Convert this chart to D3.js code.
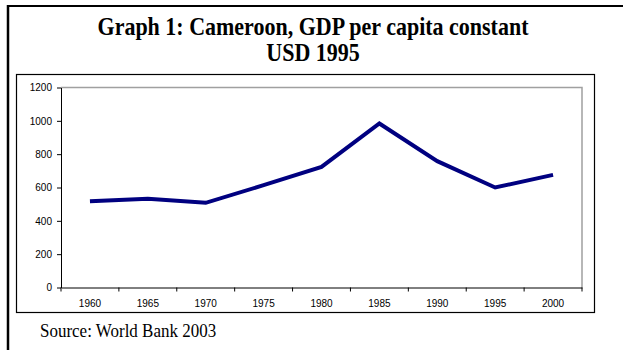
<!DOCTYPE html>
<html><head><meta charset="utf-8">
<script src="https://cdn.jsdelivr.net/npm/d3@7"></script>
<style>body{margin:0;background:#fff}svg{display:block}</style>
</head><body>
<svg id="c" width="623" height="350"></svg>
<script>
const years = ["1960","1965","1970","1975","1980","1985","1990","1995","2000"];
const gdp = [518, 532, 508, 614, 724, 984, 758, 600, 676];
const yTicks = [0, 200, 400, 600, 800, 1000, 1200];
const titleLines = ["Graph 1: Cameroon, GDP per capita constant", "USD 1995"];
const source = "Source: World Bank 2003";

const svg = d3.select("#c");
// outer frame (extends off-canvas right/bottom)
svg.append("line").attr("x1",8).attr("x2",623).attr("y1",6).attr("y2",6).attr("stroke","#000").attr("stroke-width",2);
svg.append("line").attr("x1",8).attr("x2",8).attr("y1",5).attr("y2",350).attr("stroke","#000").attr("stroke-width",2.5);

const serif = "'Liberation Serif','Times New Roman',serif";
svg.selectAll("text.title").data(titleLines).join("text").attr("class","title")
  .attr("text-anchor","middle")
  .attr("transform",(d,i)=>`translate(313,${35+i*26}) scale(1,1.1)`)
  .style("font-family",serif).style("font-weight","bold").style("font-size","22px")
  .text(d=>d);

// inner chart box
svg.append("rect").attr("x",16.5).attr("y",74.5).attr("width",578).attr("height",238).attr("fill","none").attr("stroke","#000").attr("stroke-width",1.2);

const m = {l:61, r:582, t:87.5, b:287.5};
const x = d3.scaleBand().domain(years).range([m.l, m.r]);
const y = d3.scaleLinear().domain([0,1200]).range([m.b, m.t]);

// plot area border top/right grey
svg.append("path").attr("d",`M${m.l},${m.t}H${m.r}V${m.b}`).attr("fill","none").attr("stroke","#a0a0a0").attr("stroke-width",1.5);

const font = "'Liberation Sans',Arial,sans-serif";
const ya = svg.append("g").attr("transform",`translate(${m.l},0)`)
  .call(d3.axisLeft(y).tickValues(yTicks).tickSize(4).tickSizeOuter(0).tickFormat(d3.format("d")));
ya.select(".domain").attr("stroke","#000");
ya.selectAll("text").style("font-family",font).style("font-size","10px").attr("x",-9);

const xa = svg.append("g").attr("transform",`translate(0,${m.b})`)
  .call(d3.axisBottom(x).tickSize(0).tickSizeOuter(0));
xa.select(".domain").attr("stroke","#000");
xa.selectAll("text").style("font-family",font).style("font-size","10px").attr("dy","0").attr("y",19.5);
// ticks between categories
const bounds = years.map(d=>x(d)).concat([m.r]);
xa.selectAll("line.sep").data(bounds).join("line").attr("class","sep")
  .attr("x1",d=>d).attr("x2",d=>d).attr("y1",0).attr("y2",4).attr("stroke","#000");

const line = d3.line().x((d,i)=>x(years[i])+x.bandwidth()/2).y(d=>y(d));
svg.append("path").datum(gdp).attr("d",line).attr("fill","none").attr("stroke","#000080").attr("stroke-width",4).attr("stroke-linejoin","miter");

svg.append("text").attr("transform","translate(40,337) scale(1,1.12)").style("font-family",serif).style("font-size","17px").text(source);
</script>
</body></html>
